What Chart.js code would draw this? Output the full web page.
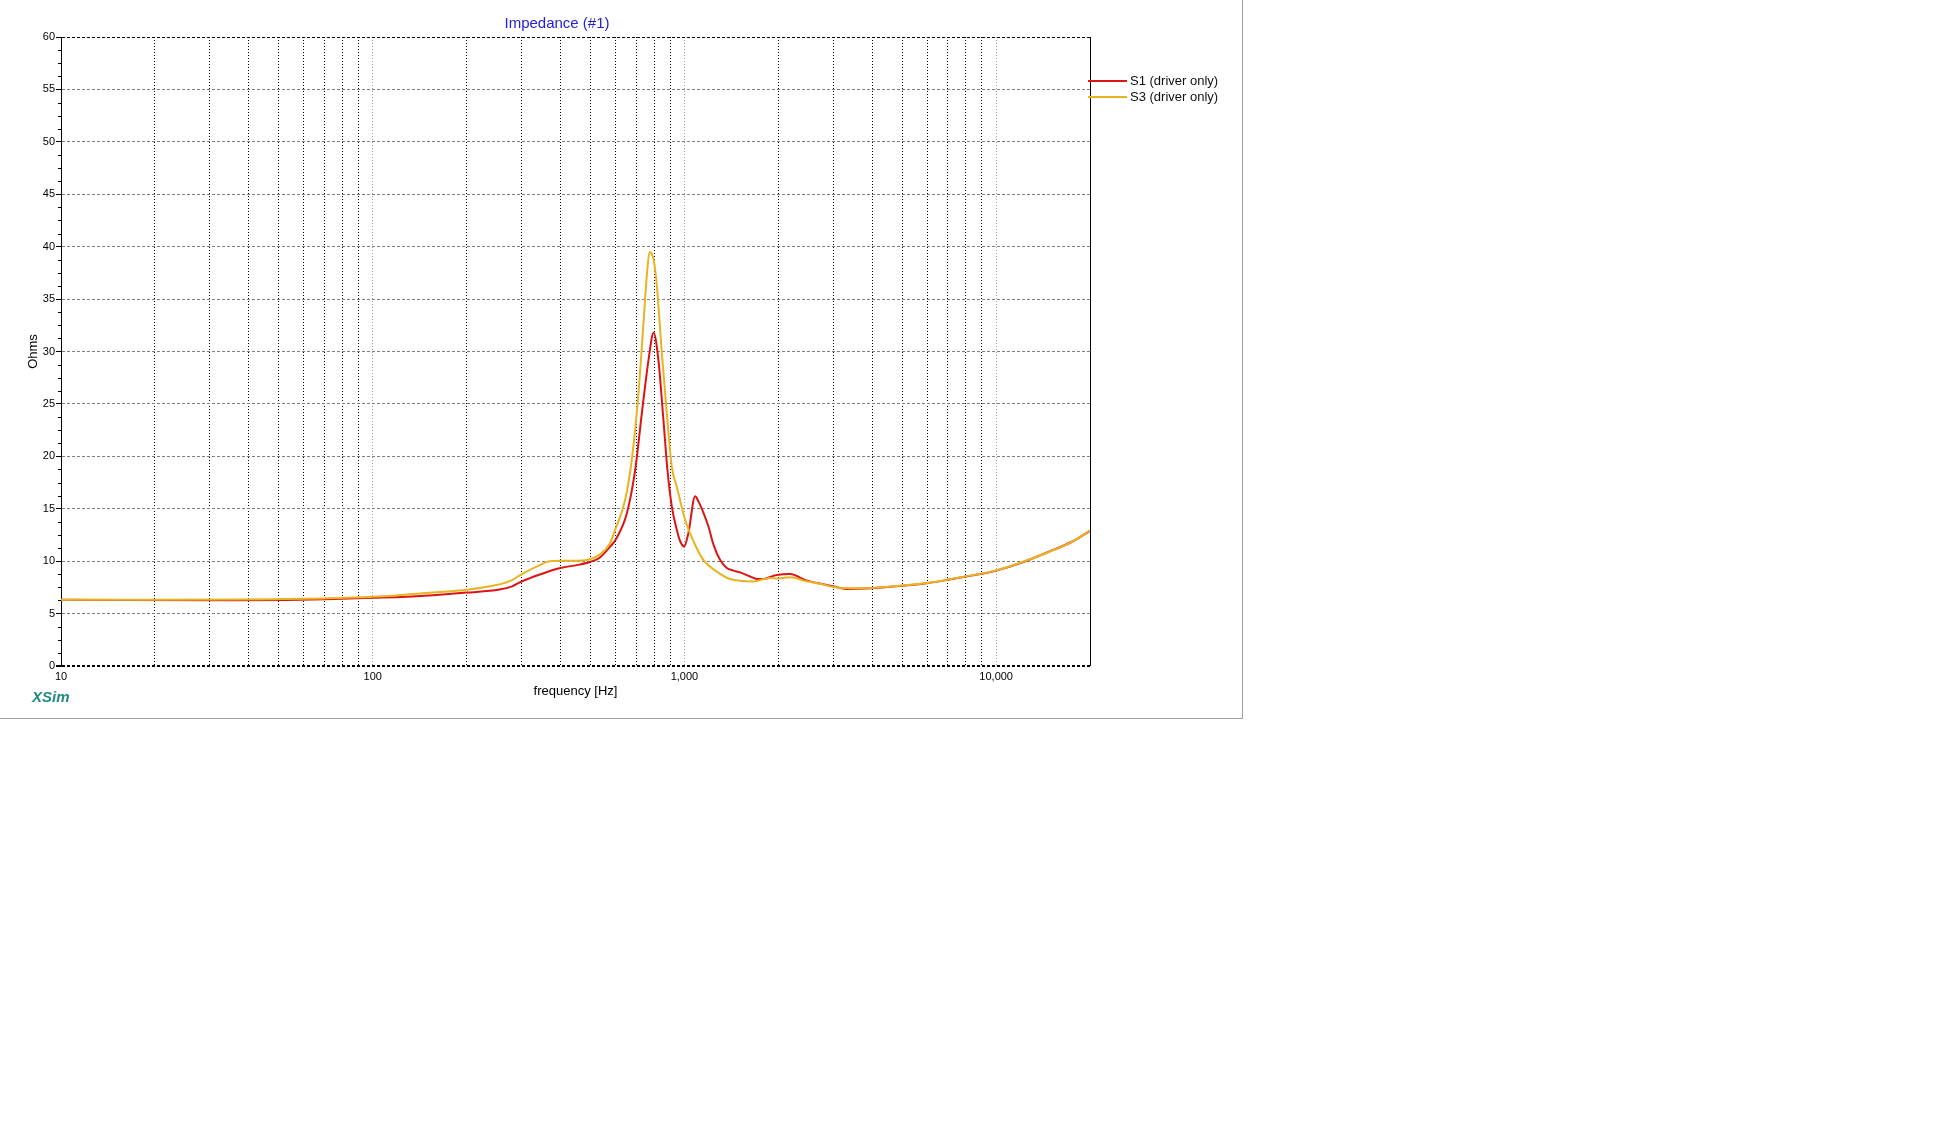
<!DOCTYPE html>
<html>
<head>
<meta charset="utf-8">
<title>Impedance (#1)</title>
<script src="https://cdn.jsdelivr.net/npm/chart.js@4.4.1/dist/chart.umd.min.js"></script>
<style>
  body { margin: 0; background: #fff; }
  #panel {
    position: absolute; left: 0; top: 0;
    width: 1242px; height: 718px;
    border-right: 1px solid #a0a0a0;
    border-bottom: 1px solid #a0a0a0;
  }
  canvas { display: block; }
</style>
</head>
<body>
<div id="panel"><canvas id="impedanceChart" width="1242" height="718"></canvas></div>
<script>
// S1 (driver only): frequency [Hz] / impedance [ohms]
const s1Freq = [10, 37, 53, 75, 100, 128, 164, 200, 255, 280, 300, 342, 400, 460, 500, 533, 574, 600, 654, 695,
  730, 767, 796, 825, 856, 882, 911, 945, 969, 998, 1030, 1082, 1109, 1151, 1194, 1240, 1302, 1367, 1436, 1508,
  1624, 1706, 1791, 1928, 2000, 2182, 2460, 2714, 3000, 3304, 4000, 5000, 6000, 7000, 8000, 9000, 10000, 11900,
  14490, 17640, 20000];
const s1Ohms = [6.32, 6.27, 6.3, 6.4, 6.5, 6.6, 6.8, 7.0, 7.29, 7.6, 8.05, 8.71, 9.35, 9.67, 9.95, 10.3, 11.3, 12.0, 14.6, 18.7,
  24.1, 29.2, 31.8, 29.2, 23.5, 18.7, 15.2, 13.0, 11.9, 11.4, 12.7, 16.2, 15.7, 14.6, 13.3, 11.56, 10.1, 9.35, 9.1, 8.93,
  8.54, 8.3, 8.3, 8.6, 8.71, 8.77, 8.17, 7.86, 7.6, 7.35, 7.42, 7.65, 7.9, 8.22, 8.53, 8.8, 9.1, 9.8,
  10.8, 11.9, 12.9];

// S3 (driver only)
const s3Freq = [10, 20, 37, 50, 70, 100, 128, 164, 200, 247, 280, 300, 342, 369, 400, 460, 500, 533, 574, 600,
  646, 678, 712, 740, 758, 773, 796, 816, 846, 878, 911, 945, 1005, 1069, 1151, 1270, 1400, 1663, 1882, 2000,
  2183, 2460, 2723, 3000, 3467, 4000, 5000, 6000, 7000, 8000, 9000, 10000, 11900, 14490, 17640, 20000];
const s3Ohms = [6.33, 6.33, 6.34, 6.38, 6.45, 6.6, 6.81, 7.06, 7.28, 7.7, 8.2, 8.75, 9.6, 10.0, 10.05, 10.05, 10.2, 10.6, 11.6, 13.0,
  15.9, 19.7, 26.0, 33.0, 37.4, 39.5, 38.8, 36.2, 29.9, 24.1, 19.0, 17.1, 13.95, 11.9, 10.1, 9.0, 8.3, 8.07, 8.39, 8.35,
  8.47, 8.08, 7.85, 7.54, 7.41, 7.44, 7.67, 7.92, 8.24, 8.55, 8.81, 9.12, 9.83, 10.78, 11.89, 12.94];

const seriesLabels = ["S1 (driver only)", "S3 (driver only)"];
const seriesColors = ["#dc1414", "#e8b421"];

const freqMin = 10;
const freqMax = 20000;
const ohmsMin = 0;
const ohmsMax = 60;
const ohmsStep = 5;
const ohmsMinorStep = 1.25;

const FONT = '"Liberation Sans", Arial, sans-serif';

function isDecade(v) {
  const l = Math.log10(v);
  return Math.abs(l - Math.round(l)) < 1e-9;
}

function toPoints(freqs, vals) {
  return freqs.map((f, i) => ({ x: f, y: vals[i] }));
}

// Frame, title, legend, minor ticks and logo drawn on top of the chart
const xsimDecor = {
  id: "xsimDecor",
  afterDraw(chart) {
    const { ctx, chartArea } = chart;
    const yScale = chart.scales.y;
    ctx.save();

    // right frame line
    ctx.strokeStyle = "#000";
    ctx.lineWidth = 1;
    ctx.beginPath();
    ctx.moveTo(Math.round(chartArea.right) + 0.5, chartArea.top);
    ctx.lineTo(Math.round(chartArea.right) + 0.5, chartArea.bottom);
    ctx.stroke();

    // minor ticks on the ohms axis
    for (let v = ohmsMin; v <= ohmsMax; v += ohmsMinorStep) {
      if (v % ohmsStep === 0) continue;
      const py = Math.round(yScale.getPixelForValue(v)) + 0.5;
      ctx.beginPath();
      ctx.moveTo(chartArea.left - 3, py);
      ctx.lineTo(chartArea.left, py);
      ctx.stroke();
    }

    // title
    ctx.fillStyle = "#2222d8";
    ctx.font = "15px " + FONT;
    ctx.textAlign = "center";
    ctx.textBaseline = "middle";
    ctx.fillText("Impedance (#1)", 557, 24);

    // legend
    ctx.font = "13px " + FONT;
    ctx.textAlign = "left";
    chart.data.datasets.forEach((ds, i) => {
      const ly = 81 + i * 16;
      ctx.strokeStyle = ds.borderColor;
      ctx.lineWidth = 2;
      ctx.beginPath();
      ctx.moveTo(chartArea.right - 2, ly);
      ctx.lineTo(chartArea.right + 37, ly);
      ctx.stroke();
      ctx.fillStyle = "#111";
      ctx.fillText(ds.label, chartArea.right + 40, ly);
    });

    // logo
    ctx.fillStyle = "#1f8a80";
    ctx.font = "italic bold 15px " + FONT;
    ctx.fillText("XSim", 32, 698);

    ctx.restore();
  }
};

const ctx = document.getElementById("impedanceChart").getContext("2d");

new Chart(ctx, {
  type: "line",
  data: {
    datasets: [
      {
        label: seriesLabels[0],
        data: toPoints(s1Freq, s1Ohms),
        borderColor: seriesColors[0],
        borderWidth: 2,
        pointRadius: 0,
        cubicInterpolationMode: "monotone",
        order: 1,
      },
      {
        label: seriesLabels[1],
        data: toPoints(s3Freq, s3Ohms),
        borderColor: seriesColors[1],
        borderWidth: 2,
        pointRadius: 0,
        cubicInterpolationMode: "monotone",
        order: 0,
      },
    ],
  },
  options: {
    responsive: false,
    animation: false,
    layout: { padding: { top: 37, right: 152, left: 0, bottom: 0 } },
    plugins: {
      legend: { display: false },
      title: { display: false },
      tooltip: { enabled: false },
    },
    scales: {
      x: {
        type: "logarithmic",
        min: freqMin,
        max: freqMax,
        afterBuildTicks: (scale) => {
          // keep 1..9 x 10^n only (drop the 1.5 x 10^n ticks)
          scale.ticks = scale.ticks.filter((t) => {
            const p = Math.pow(10, Math.floor(Math.log10(t.value) + 1e-9));
            const m = t.value / p;
            return Math.abs(m - Math.round(m)) < 1e-6;
          });
        },
        afterFit: (scale) => { scale.height = 52; },
        grid: {
          color: (c) => (c.tick && isDecade(c.tick.value) ? "#a0a0a0" : "#000"),
          lineWidth: 1,
          drawTicks: false,
        },
        border: { display: false, dash: [1, 2] },
        ticks: {
          autoSkip: false,
          maxRotation: 0,
          padding: 4,
          color: "#000",
          font: { family: FONT, size: 11 },
          callback: (v) => (isDecade(v) ? Number(v).toLocaleString("en-US") : ""),
        },
        title: {
          display: true,
          text: "frequency [Hz]",
          color: "#000",
          font: { family: FONT, size: 13 },
          padding: 19,
        },
      },
      y: {
        min: ohmsMin,
        max: ohmsMax,
        afterFit: (scale) => { scale.width = 61; },
        grid: {
          color: (c) => {
            if (!c.tick) return "#808080";
            return c.tick.value === ohmsMin || c.tick.value === ohmsMax ? "#000" : "#808080";
          },
          lineWidth: (c) => (c.tick && c.tick.value === ohmsMin ? 2 : 1),
          tickLength: 5,
          tickColor: "#000",
          tickBorderDash: [],
        },
        border: { display: true, color: "#000", width: 1, dash: [3, 2] },
        ticks: {
          stepSize: ohmsStep,
          padding: 1,
          color: "#000",
          font: { family: FONT, size: 11 },
        },
        title: {
          display: true,
          text: "Ohms",
          color: "#000",
          font: { family: FONT, size: 13 },
          padding: { top: 25.6, bottom: 0 },
        },
      },
    },
  },
  plugins: [xsimDecor],
});
</script>
</body>
</html>
